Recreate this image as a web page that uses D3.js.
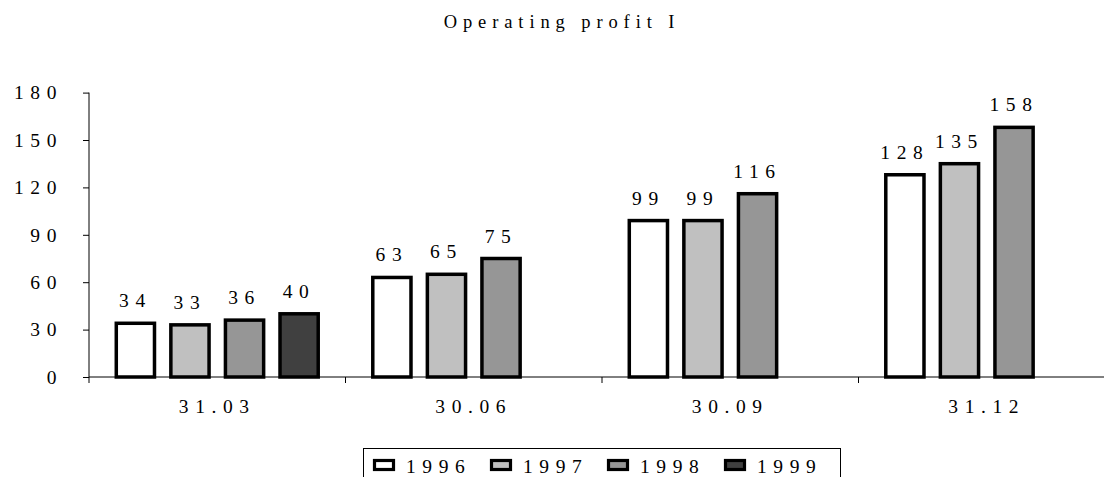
<!DOCTYPE html>
<html>
<head>
<meta charset="utf-8">
<script src="https://cdn.jsdelivr.net/npm/d3@7"></script>
<style>
  html, body { margin: 0; padding: 0; background: #fff; }
  svg { display: block; }
</style>
</head>
<body>
<svg id="chart" width="1104" height="477"></svg>
<script>
// Operating profit by reporting date, one bar per year
const categories = ["31.03", "30.06", "30.09", "31.12"];
const years = ["1996", "1997", "1998", "1999"];
const values = {
  "1996": [34, 63, 99, 128],
  "1997": [33, 65, 99, 135],
  "1998": [36, 75, 116, 158],
  "1999": [40, null, null, null]
};
const yTicks = [0, 30, 60, 90, 120, 150, 180];
const title = "Operating profit I";

const fills = { "1996": "#ffffff", "1997": "#c0c0c0", "1998": "#969696", "1999": "#404040" };

const svg = d3.select("#chart");
const plotLeft = 89, plotRight = 1115, plotTop = 92.6, plotBottom = 377;

const x0 = d3.scaleBand().domain(categories).range([plotLeft, plotRight]);
const x1 = d3.scaleBand().domain(years).range([0, x0.bandwidth()])
  .paddingInner(0.3).paddingOuter(0.5);
const y = d3.scaleLinear().domain([0, 180]).range([plotBottom, plotTop]);

const fontSize = 19.5, spacing = 6.6;
const serif = "'Liberation Serif', 'Times New Roman', serif";

// shared text styling
function styleText(sel, size = fontSize, ls = spacing) {
  return sel
    .attr("font-family", serif)
    .attr("font-size", size)
    .attr("letter-spacing", ls)
    .attr("fill", "#000");
}

// title
svg.append("text")
  .attr("x", 562).attr("y", 28)
  .attr("text-anchor", "middle")
  .call(styleText, 18.5, 5.9)
  .text(title);

// bars
const groups = svg.append("g").selectAll("g")
  .data(categories).join("g")
  .attr("transform", d => `translate(${x0(d)},0)`);

const barData = i => years
  .map(yr => ({ year: yr, value: values[yr][i] }))
  .filter(d => d.value != null);

groups.each(function(c, i) {
  const g = d3.select(this);
  const data = barData(i);
  g.selectAll("rect").data(data).join("rect")
    .attr("x", d => x1(d.year))
    .attr("y", d => y(d.value))
    .attr("width", x1.bandwidth())
    .attr("height", d => y(0) - y(d.value))
    .attr("fill", d => fills[d.year])
    .attr("stroke", "#000")
    .attr("stroke-width", 3.5);
  g.selectAll("text").data(data).join("text")
    .attr("x", d => x1(d.year) + x1.bandwidth() / 2)
    .attr("y", d => y(d.value) - 16)
    .attr("text-anchor", "middle")
    .call(styleText)
    .text(d => d.value);
});

// y axis
const yAxis = svg.append("g")
  .attr("transform", `translate(${plotLeft},0)`)
  .call(d3.axisLeft(y).tickValues(yTicks).tickSize(6).tickPadding(20));
yAxis.attr("font-family", serif).attr("font-size", fontSize);
yAxis.select(".domain").attr("stroke", "#000").attr("d", `M0,${plotTop}V${plotBottom}`);
yAxis.selectAll(".tick line").attr("stroke", "#000");
yAxis.selectAll(".tick text").call(styleText);

// x axis
const boundaries = categories.map(c => x0(c)).concat([plotRight]);
svg.append("line")
  .attr("x1", plotLeft).attr("x2", plotRight)
  .attr("y1", plotBottom).attr("y2", plotBottom)
  .attr("stroke", "#000");
svg.append("g").selectAll("line")
  .data(boundaries).join("line")
  .attr("x1", d => d).attr("x2", d => d)
  .attr("y1", plotBottom).attr("y2", plotBottom + 6)
  .attr("stroke", "#000");
svg.append("g").selectAll("text")
  .data(categories).join("text")
  .attr("x", d => x0(d) + x0.bandwidth() / 2)
  .attr("y", 413)
  .attr("text-anchor", "middle")
  .call(styleText)
  .text(d => d);

// legend
const legend = svg.append("g");
legend.append("rect")
  .attr("x", 363.5).attr("y", 448.5)
  .attr("width", 477).attr("height", 60)
  .attr("fill", "none").attr("stroke", "#000");
const itemX = d3.scalePoint().domain(years).range([373, 724]);
const items = legend.selectAll("g.item").data(years).join("g")
  .attr("class", "item")
  .attr("transform", d => `translate(${itemX(d)},0)`);
items.append("rect")
  .attr("x", 1.5).attr("y", 460.5)
  .attr("width", 19).attr("height", 9)
  .attr("fill", d => fills[d])
  .attr("stroke", "#000").attr("stroke-width", 3.2);
items.append("text")
  .attr("x", 33).attr("y", 472.5)
  .call(styleText)
  .text(d => d);
</script>
</body>
</html>
